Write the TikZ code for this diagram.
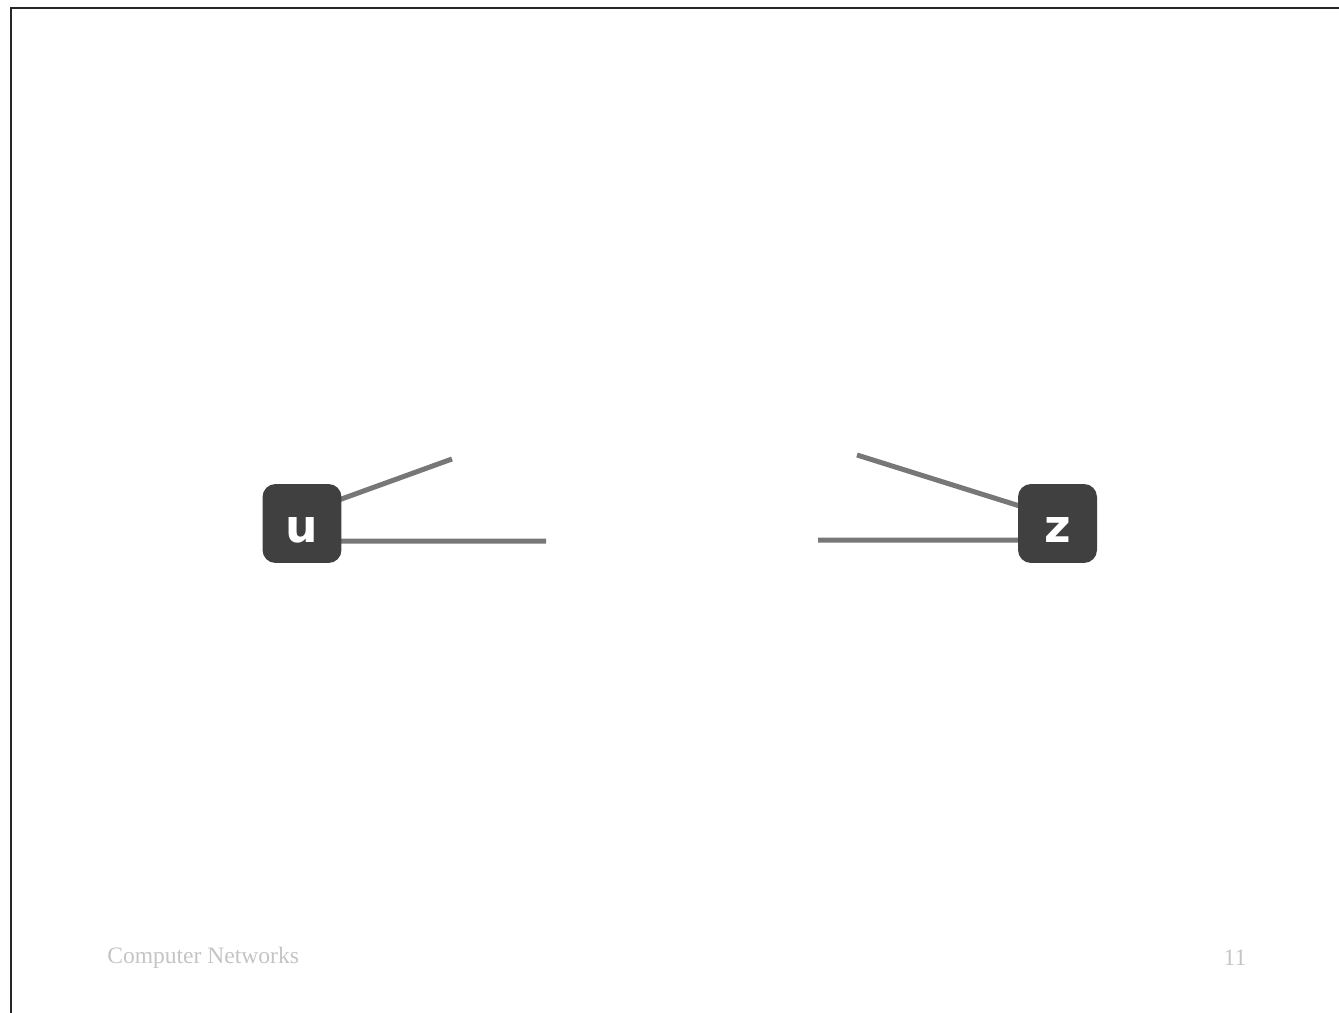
\documentclass[tikz,border=0pt]{standalone}
\usepackage{fontspec}
\setmainfont{Liberation Serif}
\newfontfamily\nodefont{DejaVu Sans}
\usetikzlibrary{backgrounds}
\definecolor{boxgray}{HTML}{404040}
\definecolor{linkgray}{HTML}{777777}
\definecolor{footgray}{HTML}{C4C4C4}
\begin{document}
\begin{tikzpicture}[x=0.02cm,y=-0.02cm,
  router/.style={draw=none,fill=boxgray,rounded corners=0.26cm,minimum width=1.58cm,minimum height=1.58cm,inner sep=0pt,text=white,text height=0.78cm,text depth=0cm,font=\nodefont\bfseries\fontsize{26}{28}\selectfont},
  link/.style={draw=linkgray,line width=0.1cm},
  foot/.style={text=footgray,font=\fontsize{13.4}{15}\selectfont,inner sep=0pt}]
\useasboundingbox (0,0) rectangle (1339,1013);
\draw[line width=0.04cm,black!85] (11,1013) -- (11,8) -- (1339,8);
\node[router] (u) at (302,523.5) {u};
\node[router] (z) at (1057.5,523.5) {z};
\coordinate (ua) at (452,459);
\coordinate (ub) at (546,541);
\coordinate (za) at (857,455);
\coordinate (zb) at (818,540);
\begin{scope}[on background layer]
\draw[link] ([shift={(-10,-21)}]u.east) -- (ua);
\draw[link] ([shift={(-10,17.5)}]u.east) -- (ub);
\draw[link] ([shift={(10,-15)}]z.west) -- (za);
\draw[link] ([shift={(10,16.5)}]z.west) -- (zb);
\end{scope}
\node[foot,anchor=west] (foot) at (107,958) {Computer Networks};
\node[foot] (page) at (1235,958) {11};
\end{tikzpicture}
\end{document}
